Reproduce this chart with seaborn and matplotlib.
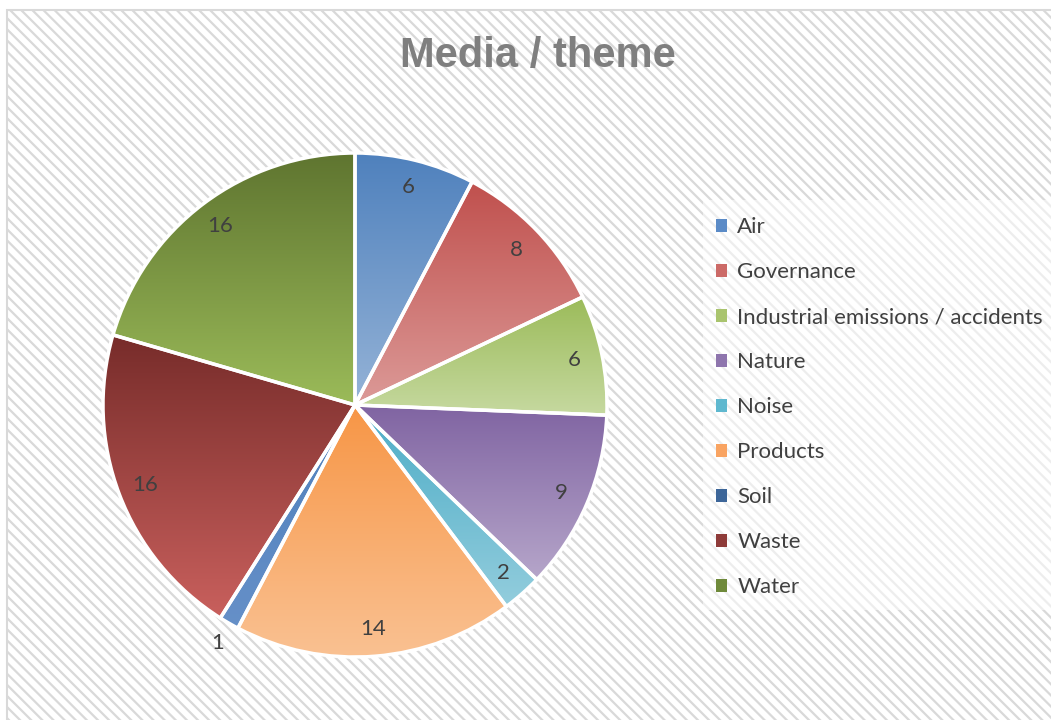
import numpy as np
import matplotlib
matplotlib.use("Agg")
import matplotlib.pyplot as plt
import seaborn as sns
from matplotlib.patches import Rectangle, Patch

# data
themes = ["Air", "Governance", "Industrial emissions / accidents", "Nature",
          "Noise", "Products", "Soil", "Waste", "Water"]
counts = [6, 8, 6, 9, 2, 14, 1, 16, 16]

# gradient end colours per slice (top, bottom)
top_colors = ["#4f81bd", "#c0504d", "#9bbb59", "#8064a2", "#4bacc6",
              "#f79646", "#4e7fbc", "#772c2a", "#5f7530"]
bottom_colors = ["#95b3d7", "#dc9a98", "#c6d9a0", "#b6a6ca", "#93cddd",
                 "#fac192", "#6690c8", "#c9605d", "#9bbb59"]
legend_colors = ["#5b8bc7", "#cc6a67", "#a9c46e", "#8e75ad", "#5fb8cf",
                 "#f9a462", "#3d6699", "#8e3b39", "#6f8a3b"]

sns.set_theme(style="white")
plt.rcParams["font.family"] = ["Lato", "DejaVu Sans"]
plt.rcParams["hatch.linewidth"] = 1.6
plt.rcParams["hatch.color"] = "#efefef"

W, H = 1051, 720
fig = plt.figure(figsize=(W / 100, H / 100), dpi=100, facecolor="white")

# chart area background with fine diagonal stripes
bg = fig.add_axes([0, 0, 1, 1], zorder=0)
bg.set_xlim(0, W)
bg.set_ylim(H, 0)
bg.axis("off")
bg.add_patch(Rectangle((7, 10), W, H, facecolor="white", edgecolor="#d9d9d9",
                       hatch="\\\\\\", linewidth=1.5))
# legend panel
bg.add_patch(Rectangle((703, 200), 348, 410, facecolor="white", alpha=0.55,
                       edgecolor="none"))

fig.text(538 / W, 1 - 56 / H, "Media / theme", ha="center", va="center",
         fontsize=30, fontweight="bold", color="#7f7f7f",
         family=["Liberation Sans", "DejaVu Sans"])

# pie
cx, cy, r = 355, 405, 252
ax = fig.add_axes([(cx - r) / W, 1 - (cy + r) / H, 2 * r / W, 2 * r / H], zorder=1)
ax.patch.set_alpha(0)
wedges, _ = ax.pie(counts, startangle=90, counterclock=False,
                   wedgeprops=dict(facecolor="none", edgecolor="white", linewidth=2.5))
ax.set_xlim(-1, 1)
ax.set_ylim(-1, 1)
ax.set_aspect("equal")

for w, c_top, c_bot in zip(wedges, top_colors, bottom_colors):
    th = np.radians(np.linspace(w.theta1, w.theta2, 200))
    ys = np.concatenate([[0], np.sin(th)])
    ymin, ymax = ys.min(), ys.max()
    grad = np.array(sns.blend_palette([c_top, c_bot], 256))[:, :3]
    img = ax.imshow(grad[:, None, :], extent=[-1, 1, ymin, ymax], origin="upper",
                    aspect="auto", zorder=1, interpolation="bilinear")
    img.set_clip_path(w)
    w.set_zorder(2)

total = sum(counts)
cum = 0
for v in counts:
    mid = 90 - (cum + v / 2) / total * 360
    d = 1.09 if v / total < 0.02 else 0.89
    ax.text(d * np.cos(np.radians(mid)), d * np.sin(np.radians(mid)), str(v),
            ha="center", va="center", fontsize=16, color="#404040", zorder=3)
    cum += v

handles = [Patch(facecolor=c, edgecolor="none") for c in legend_colors]
leg = fig.legend(handles, themes, loc="upper left",
                 bbox_to_anchor=(705 / W, 1 - 206 / H), frameon=False,
                 fontsize=16, labelcolor="#404040", handlelength=0.5,
                 handleheight=0.5, handletextpad=0.45, labelspacing=1.125,
                 borderpad=0)

fig.savefig("out.png", dpi=100, facecolor="white")
